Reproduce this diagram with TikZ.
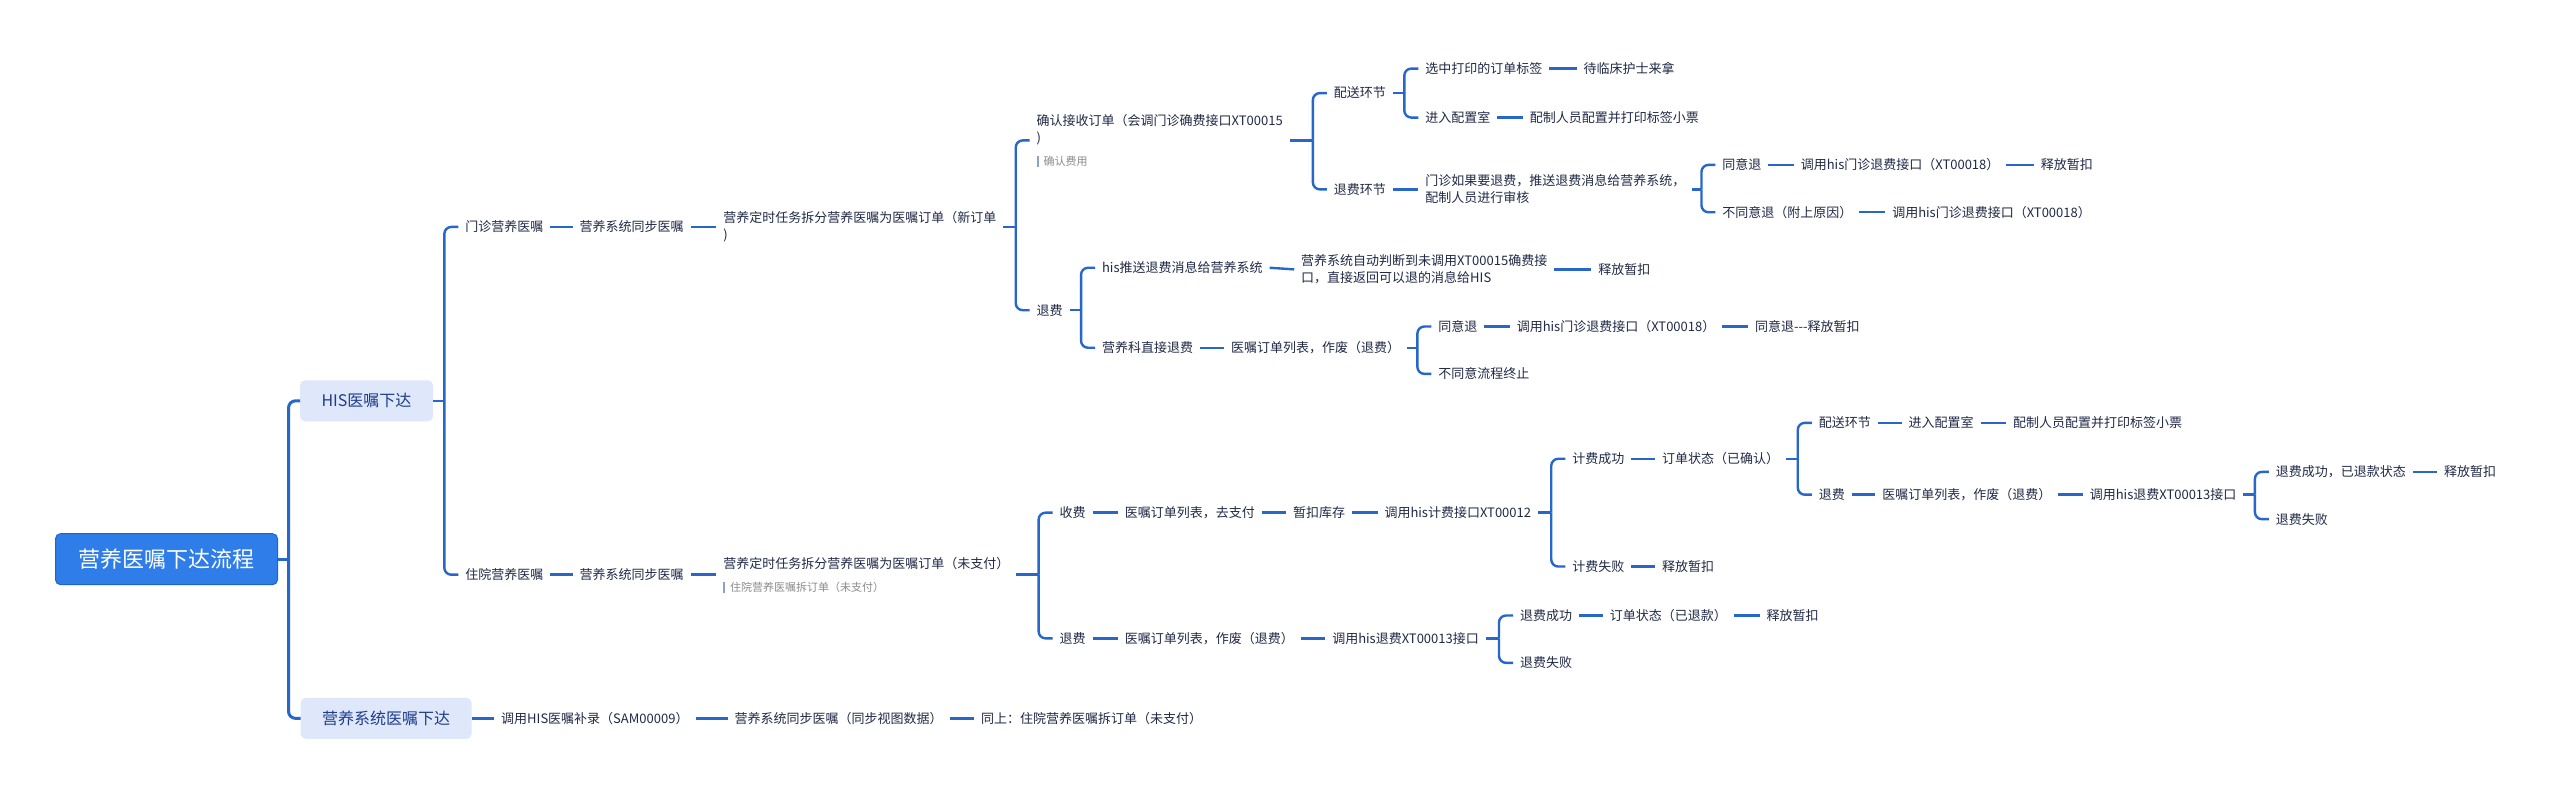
\documentclass[tikz,border=0pt]{standalone}
\usepackage{fontspec}
\setmainfont{Noto Sans CJK SC}
\usetikzlibrary{calc}
\definecolor{lc}{RGB}{38,103,201}
\definecolor{tc}{RGB}{33,42,70}
\definecolor{rootfill}{RGB}{47,125,232}
\definecolor{rootline}{RGB}{30,100,205}
\definecolor{boxfill}{RGB}{222,232,250}
\definecolor{boxtext}{RGB}{30,60,140}
\definecolor{notec}{RGB}{140,140,140}
\definecolor{barc}{RGB}{140,160,200}
\newcommand\notetxt[1]{{\fontsize{11pt}{13pt}\selectfont\textcolor{barc}{\rule[-1.5pt]{1.8pt}{11pt}}\hspace{5pt}\textcolor{notec}{#1}}}
\newcommand\fork[4]{%
  \draw[conn] (#1.east) -- ($(#2.west |- #1.east)+(#3,0)$);
  \foreach \ch in {#4}{\draw[conn,rounded corners=7pt] ($(#2.west |- #1.east)+(#3,0)$) |- (\ch.west);}
}
\begin{document}
\begin{tikzpicture}[x=1.6327pt,y=-1.6327pt,
  conn/.style={draw=lc,line width=2.4pt},
  t/.style={anchor=west,inner sep=0pt,outer xsep=7pt,xshift=-7pt,text=tc,font=\fontsize{13pt}{17pt}\selectfont,align=left},
  box/.style={rounded corners=5pt,fill=boxfill,text=boxtext,font=\fontsize{16pt}{19pt}\selectfont,minimum height=41pt,inner sep=0pt,outer sep=0pt}]
\fill[white] (0,0) rectangle (1568,485.7);
\useasboundingbox (0,0) rectangle (1568,485.7);

% level 0/1
\node[fill=rootfill,draw=rootline,line width=1pt,rounded corners=5pt,minimum width=222pt,minimum height=51pt,inner sep=0pt,outer sep=0pt,text=white,font=\fontsize{22pt}{26pt}\selectfont] (root) at (102,342.5) {营养医嘱下达流程};
\node[box,minimum width=133pt] (his) at (224.5,245.5) {HIS医嘱下达};
\node[box,minimum width=171pt] (sys) at (236.5,440) {营养系统医嘱下达};

% outpatient
\node[t] (n1) at (285,139) {门诊营养医嘱};
\node[t] (n2) at (355,139) {营养系统同步医嘱};
\node[t] (n3) at (443,139) {营养定时任务拆分营养医嘱为医嘱订单（新订单\\)};
\node[t] (n4) at (635,86) {确认接收订单（会调门诊确费接口XT00015\\)\\[6pt]\notetxt{确认费用}};
\node[t] (n5) at (817,57) {配送环节};
\node[t] (n6) at (873,42) {选中打印的订单标签};
\node[t] (n7) at (970,42) {待临床护士来拿};
\node[t] (n8) at (873,72) {进入配置室};
\node[t] (n9) at (937,72) {配制人员配置并打印标签小票};
\node[t] (n10) at (817,116) {退费环节};
\node[t] (n11) at (873,116) {门诊如果要退费，推送退费消息给营养系统，\\配制人员进行审核};
\node[t] (n12) at (1055,101) {同意退};
\node[t] (n13) at (1103,101) {调用his门诊退费接口（XT00018）};
\node[t] (n14) at (1250,101) {释放暂扣};
\node[t] (n15) at (1055,130) {不同意退（附上原因）};
\node[t] (n16) at (1159,130) {调用his门诊退费接口（XT00018）};
\node[t] (n17) at (635,190) {退费};
\node[t] (n18) at (675,164) {his推送退费消息给营养系统};
\node[t] (n19) at (797,165) {营养系统自动判断到未调用XT00015确费接\\口，直接返回可以退的消息给HIS};
\node[t] (n20) at (979,165) {释放暂扣};
\node[t] (n21) at (675,213) {营养科直接退费};
\node[t] (n22) at (754,213) {医嘱订单列表，作废（退费）};
\node[t] (n23) at (881,200) {同意退};
\node[t] (n24) at (929,200) {调用his门诊退费接口（XT00018）};
\node[t] (n25) at (1075,200) {同意退-\kern0pt-\kern0pt-释放暂扣};
\node[t] (n26) at (881,229) {不同意流程终止};

% inpatient
\node[t] (m1) at (285,352) {住院营养医嘱};
\node[t] (m2) at (355,352) {营养系统同步医嘱};
\node[t] (m3) at (443,352) {营养定时任务拆分营养医嘱为医嘱订单（未支付）\\[6pt]\notetxt{住院营养医嘱拆订单（未支付）}};
\node[t] (m4) at (649,314) {收费};
\node[t] (m5) at (689,314) {医嘱订单列表，去支付};
\node[t] (m6) at (792,314) {暂扣库存};
\node[t] (m7) at (848,314) {调用his计费接口XT00012};
\node[t] (m8) at (963,281) {计费成功};
\node[t] (m9) at (1018,281) {订单状态（已确认）};
\node[t] (m10) at (1114,259) {配送环节};
\node[t] (m11) at (1169,259) {进入配置室};
\node[t] (m12) at (1233,259) {配制人员配置并打印标签小票};
\node[t] (m13) at (1114,303) {退费};
\node[t] (m14) at (1153,303) {医嘱订单列表，作废（退费）};
\node[t] (m15) at (1280,303) {调用his退费XT00013接口};
\node[t] (m16) at (1394,289) {退费成功，已退款状态};
\node[t] (m17) at (1497,289) {释放暂扣};
\node[t] (m18) at (1394,318) {退费失败};
\node[t] (m19) at (963,347) {计费失败};
\node[t] (m20) at (1018,347) {释放暂扣};
\node[t] (m21) at (649,391) {退费};
\node[t] (m22) at (689,391) {医嘱订单列表，作废（退费）};
\node[t] (m23) at (816,391) {调用his退费XT00013接口};
\node[t] (m24) at (931,377) {退费成功};
\node[t] (m25) at (986,377) {订单状态（已退款）};
\node[t] (m26) at (1082,377) {释放暂扣};
\node[t] (m27) at (931,406) {退费失败};

% system branch
\node[t] (b1) at (307,440) {调用HIS医嘱补录（SAM00009）};
\node[t] (b2) at (450,440) {营养系统同步医嘱（同步视图数据）};
\node[t] (b3) at (601,440) {同上：住院营养医嘱拆订单（未支付）};

% connectors
\begin{scope}[conn/.append style={line width=3pt}]
\fork{root}{his}{-11.5pt}{his,sys}
\end{scope}
\fork{his}{n1}{-14pt}{n1,m1}
\draw[conn] (n1.east) -- (n2.west);
\draw[conn] (n2.east) -- (n3.west);
\fork{n3}{n4}{-14pt}{n4,n17}
\fork{n4}{n5}{-14pt}{n5,n10}
\fork{n5}{n6}{-14pt}{n6,n8}
\draw[conn] (n6.east) -- (n7.west);
\draw[conn] (n8.east) -- (n9.west);
\draw[conn] (n10.east) -- (n11.west);
\fork{n11}{n12}{-14pt}{n12,n15}
\draw[conn] (n12.east) -- (n13.west);
\draw[conn] (n13.east) -- (n14.west);
\draw[conn] (n15.east) -- (n16.west);
\fork{n17}{n18}{-14pt}{n18,n21}
\draw[conn] (n18.east) -- (n19.west);
\draw[conn] (n19.east) -- (n20.west);
\draw[conn] (n21.east) -- (n22.west);
\fork{n22}{n23}{-14pt}{n23,n26}
\draw[conn] (n23.east) -- (n24.west);
\draw[conn] (n24.east) -- (n25.west);
\draw[conn] (m1.east) -- (m2.west);
\draw[conn] (m2.east) -- (m3.west);
\fork{m3}{m4}{-14pt}{m4,m21}
\draw[conn] (m4.east) -- (m5.west);
\draw[conn] (m5.east) -- (m6.west);
\draw[conn] (m6.east) -- (m7.west);
\fork{m7}{m8}{-14pt}{m8,m19}
\draw[conn] (m8.east) -- (m9.west);
\fork{m9}{m10}{-14pt}{m10,m13}
\draw[conn] (m10.east) -- (m11.west);
\draw[conn] (m11.east) -- (m12.west);
\draw[conn] (m13.east) -- (m14.west);
\draw[conn] (m14.east) -- (m15.west);
\fork{m15}{m16}{-14pt}{m16,m18}
\draw[conn] (m16.east) -- (m17.west);
\draw[conn] (m19.east) -- (m20.west);
\draw[conn] (m21.east) -- (m22.west);
\draw[conn] (m22.east) -- (m23.west);
\fork{m23}{m24}{-14pt}{m24,m27}
\draw[conn] (m24.east) -- (m25.west);
\draw[conn] (m25.east) -- (m26.west);
\draw[conn] (sys.east) -- (b1.west);
\draw[conn] (b1.east) -- (b2.west);
\draw[conn] (b2.east) -- (b3.west);
\end{tikzpicture}
\end{document}
